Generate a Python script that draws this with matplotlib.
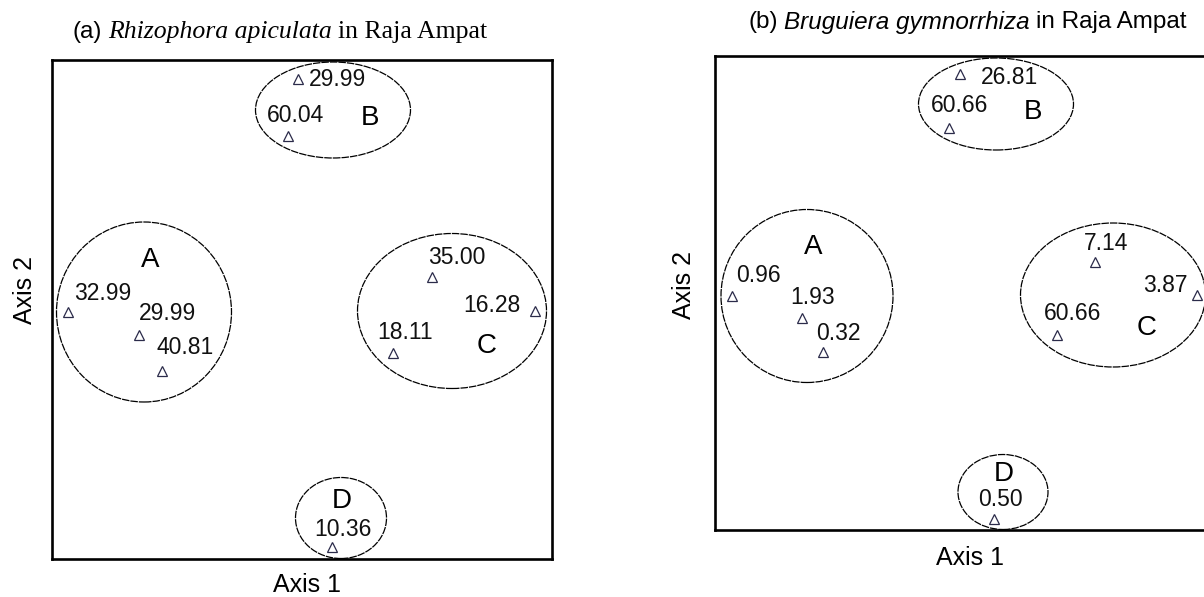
import matplotlib.pyplot as plt
from matplotlib.patches import Ellipse

W, H = 1204, 597

# ordination scores (axis units = box pixels)
a_labels = ["29.99", "60.04", "32.99", "29.99", "40.81", "35.00", "16.28", "18.11", "10.36"]
a_x = [246, 236, 16, 87, 110, 380, 483, 341, 280]
a_y = [480, 423, 247, 224, 188, 282, 248, 206, 12]

b_labels = ["26.81", "60.66", "0.96", "1.93", "0.32", "7.14", "3.87", "60.66", "0.50"]
b_x = [245, 234, 17, 87, 108, 380, 482, 342, 279]
b_y = [456, 402, 234, 212, 178, 268, 235, 195, 11]

groups = ["A", "B", "C", "D"]
# group ellipses: centre x, centre y, width, height
a_groups = [(92, 247, 175, 180), (281, 449, 155, 96), (400, 248, 189, 155), (289, 41, 91, 81)]
b_groups = [(92, 234, 172, 173), (281, 426, 155, 92), (398, 235, 185, 144), (288, 38, 90, 75)]
a_letters = [(98, 299), (318, 441), (435, 213), (290, 58)]
b_letters = [(98, 283), (318, 418), (432, 202), (289, 56)]

# label offsets from the triangle, in pixels (right, up)
a_off = [(40, -1), (7, 21), (35, 19), (29, 22), (23, 23), (25, 20), (-43, 6), (12, 21), (11, 17)]
b_off = [(50, -4), (11, 23), (26, 21), (11, 20), (15, 19), (11, 19), (-32, 10), (16, 22), (6, 19)]

SANS = "Liberation Sans"
SERIF = "Liberation Serif"


def panel(rect, ylim, xs, ys, labels, offs, ell, letters):
    ax = fig.add_axes(rect)
    ax.set_xlim(0, 500)
    ax.set_ylim(0, ylim)
    ax.set_xticks([])
    ax.set_yticks([])
    for s in ax.spines.values():
        s.set_linewidth(1.9)
    for (cx, cy, w, h) in ell:
        ax.add_patch(Ellipse((cx, cy), w, h, fill=False, ec="black", lw=0.9,
                             ls=(0, (6, 0.8)), clip_on=False))
    ax.plot(xs, ys, ls="none", marker="^", ms=7, mfc="none", mec="#2b2b4a", mew=0.9, clip_on=False)
    for x, y, t, (dx, dy) in zip(xs, ys, labels, offs):
        ax.annotate(t, (x, y), xytext=(dx * 0.72, dy * 0.72), textcoords="offset points",
                    ha="center", va="center", fontsize=16.5, family=SANS, color="#111111")
    for g, (lx, ly) in zip(groups, letters):
        ax.text(lx, ly, g, ha="center", va="center", fontsize=20, family=SANS)
    return ax


def rich_text(x0, y0, parts):
    r = fig.canvas.get_renderer()
    x = x0
    for txt, kw in parts:
        t = fig.text(x / W, 1 - y0 / H, txt, ha="left", va="center", **kw)
        x += t.get_window_extent(r).width + 6


fig = plt.figure(figsize=(W / 100, H / 100), dpi=100)

panel([52 / W, (H - 559) / H, 500 / W, 499 / H], 499, a_x, a_y, a_labels, a_off, a_groups, a_letters)
panel([715 / W, (H - 530) / H, 500 / W, 474 / H], 474, b_x, b_y, b_labels, b_off, b_groups, b_letters)

rich_text(73, 32, [("(a)", dict(family=SANS, fontsize=17.5)),
                   ("Rhizophora apiculata", dict(family=SERIF, style="italic", fontsize=18.5)),
                   ("in Raja Ampat", dict(family=SERIF, fontsize=18.5))])
rich_text(749, 22, [("(b)", dict(family=SANS, fontsize=17.5)),
                    ("Bruguiera gymnorrhiza", dict(family=SANS, style="italic", fontsize=17.5)),
                    ("in Raja Ampat", dict(family=SANS, fontsize=17.5))])

fig.text(307 / W, 1 - 585 / H, "Axis 1", ha="center", va="center", fontsize=18, family=SANS)
fig.text(970 / W, 1 - 558 / H, "Axis 1", ha="center", va="center", fontsize=18, family=SANS)
fig.text(25 / W, 1 - 290 / H, "Axis 2", ha="center", va="center", rotation=90, fontsize=18, family=SANS)
fig.text(684 / W, 1 - 285 / H, "Axis 2", ha="center", va="center", rotation=90, fontsize=18, family=SANS)

fig.savefig("out.png", dpi=100)
